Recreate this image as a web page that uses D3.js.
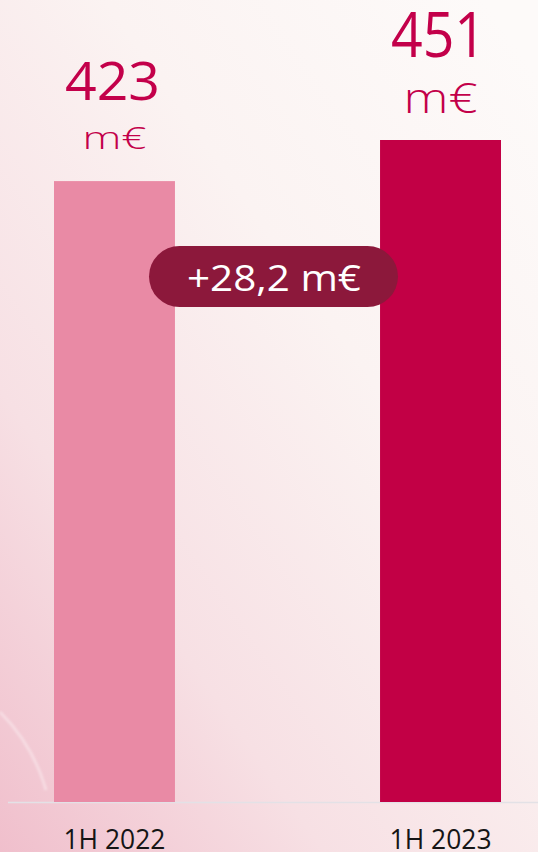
<!DOCTYPE html>
<html><head><meta charset="utf-8">
<script src="https://cdn.jsdelivr.net/npm/d3@7"></script>
<style>html,body{margin:0;padding:0;overflow:hidden;}svg{display:block;}</style>
</head><body>
<svg id="chart" width="538" height="852"></svg>
<script>
const categories = ["1H 2022", "1H 2023"];
const values = [423, 451];
const unitLabel = "m€";
const deltaLabel = "+28,2 m€";
const barColors = ["#E98AA5", "#C20045"];

const W = 538, H = 852;
const svg = d3.select("#chart");
const defs = svg.append("defs");
const bg = defs.append("linearGradient").attr("id","bg")
  .attr("x1","0").attr("y1","1").attr("x2","0.9").attr("y2","0");
bg.append("stop").attr("offset","0").attr("stop-color","#F0BFCC");
bg.append("stop").attr("offset","0.3").attr("stop-color","#F7E0E4");
bg.append("stop").attr("offset","0.65").attr("stop-color","#FBF3F2");
bg.append("stop").attr("offset","1").attr("stop-color","#FDFAF9");
svg.append("rect").attr("width",W).attr("height",H).attr("fill","url(#bg)");
// faint swoosh at bottom-left
const blur = defs.append("filter").attr("id","soft");
blur.append("feGaussianBlur").attr("stdDeviation",1.2);
svg.append("path").attr("d","M0,712 C18,730 36,755 46,790")
  .attr("fill","none").attr("stroke","#fff").attr("stroke-opacity",0.35).attr("stroke-width",3)
  .attr("filter","url(#soft)");

const x = d3.scaleBand().domain(categories).range([54, 501]).paddingInner(0.629).paddingOuter(0);
const y = d3.scaleLinear().domain([0, 451]).range([802, 140]);
const cx = c => x(c) + x.bandwidth()/2;

// baseline
svg.append("line").attr("x1",8).attr("x2",W).attr("y1",y(0)+0.5).attr("y2",y(0)+0.5)
  .attr("stroke","#E3E1E6").attr("stroke-width",1.5);

svg.selectAll("rect.bar").data(values).enter().append("rect").attr("class","bar")
  .attr("x",(d,i)=>x(categories[i])).attr("width",x.bandwidth())
  .attr("y",d=>y(d)).attr("height",d=>y(0)-y(d))
  .attr("fill",(d,i)=>barColors[i]);

const font = "'Open Sans', sans-serif";
const numSize = [53, 62];
const numGap = [81, 83];
const unitSize = [32, 42];
const unitGap = [32, 27];
const unitWidth = [64, 74];
svg.selectAll("text.val").data(values).enter().append("text").attr("class","val")
  .attr("x",(d,i)=>cx(categories[i]) - 2)
  .attr("y",(d,i)=>y(d)-numGap[i])
  .attr("text-anchor","middle").attr("font-family",font).attr("font-weight",500)
  .attr("font-size",(d,i)=>numSize[i]).attr("fill","#C3004A")
  .attr("textLength",95).attr("lengthAdjust","spacingAndGlyphs")
  .text(d=>d);
svg.selectAll("text.unit").data(values).enter().append("text").attr("class","unit")
  .attr("x",(d,i)=>cx(categories[i]))
  .attr("y",(d,i)=>y(d)-unitGap[i])
  .attr("text-anchor","middle").attr("font-family",font).attr("font-weight",300)
  .attr("font-size",(d,i)=>unitSize[i]).attr("fill","#C3004A")
  .attr("textLength",(d,i)=>unitWidth[i]).attr("lengthAdjust","spacingAndGlyphs")
  .text(unitLabel);

// category labels
svg.selectAll("text.cat").data(categories).enter().append("text").attr("class","cat")
  .attr("x",d=>cx(d)).attr("y",849)
  .attr("text-anchor","middle").attr("font-family",font).attr("font-weight",500)
  .attr("font-size",27).attr("fill","#151515")
  .attr("textLength",102).attr("lengthAdjust","spacingAndGlyphs")
  .text(d=>d);

// delta pill
svg.append("rect").attr("x",149).attr("y",246).attr("width",249).attr("height",61)
  .attr("rx",30.5).attr("fill","#8C183B");
svg.append("text").attr("x",274).attr("y",291).attr("text-anchor","middle")
  .attr("font-family",font).attr("font-weight",400).attr("font-size",36).attr("fill","#fff")
  .attr("textLength",174).attr("lengthAdjust","spacingAndGlyphs")
  .text(deltaLabel);
</script>
</body></html>
